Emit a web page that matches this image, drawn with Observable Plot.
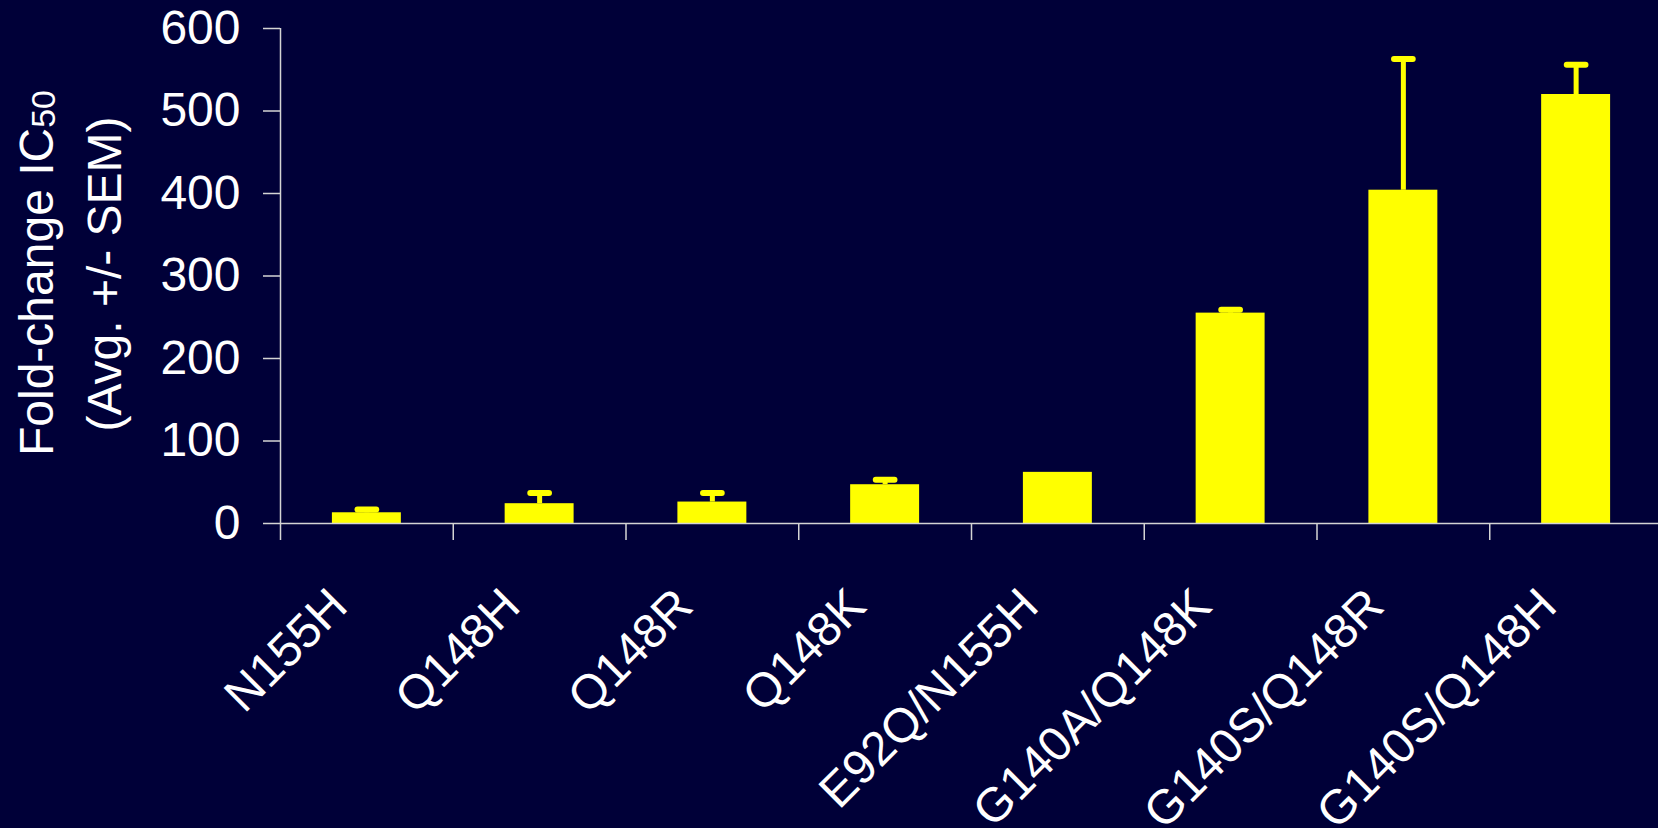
<!DOCTYPE html>
<html>
<head>
<meta charset="utf-8">
<script src="https://cdn.jsdelivr.net/npm/d3@7"></script>
<script src="https://cdn.jsdelivr.net/npm/@observablehq/plot@0.6"></script>
<style>
  html, body { margin: 0; padding: 0; background: #000038; overflow: hidden; }
  #chart svg { display: block; }
</style>
</head>
<body>
<div id="chart"></div>
<script>
// ---- data ----
const categories = ["N155H", "Q148H", "Q148R", "Q148K", "E92Q/N155H", "G140A/Q148K", "G140S/Q148R", "G140S/Q148H"];
const values = [13, 24, 26, 47, 62, 255, 404, 520];
const sem = [4, 13, 11, 6, null, 4, 159, 36];
const yTicks = [0, 100, 200, 300, 400, 500, 600];
const titleMain = "Fold-change IC";
const titleSub = "50";
const titleLine2 = "(Avg. +/- SEM)";

// ---- styling ----
const bg = "#000038";
const barColor = "#ffff00";
const axisColor = "#d4d4d4";
const font = "'Liberation Sans', Arial, Helvetica, sans-serif";

const rows = categories.map((name, i) => ({
  name,
  c: i + 0.5,
  v: values[i],
  hi: sem[i] == null ? null : values[i] + sem[i]
}));
const errRows = rows.filter(d => d.hi != null);
const xTicks = categories.map((_, i) => i);

const capSymbol = {
  draw(ctx, size) {
    const w = Math.sqrt(size);
    ctx.moveTo(-w / 2, 0);
    ctx.lineTo(w / 2, 0);
  }
};

const chart = Plot.plot({
  width: 1658,
  height: 828,
  marginLeft: 280,
  marginRight: -4,
  marginTop: 28,
  marginBottom: 305,
  x: {domain: [0, categories.length]},
  y: {domain: [0, 600]},
  style: {background: bg, color: "white", fontFamily: font, fontSize: "48px", overflow: "hidden"},
  marks: [
    Plot.rectY(rows, {x: "c", interval: 1, y: "v", fill: barColor, insetLeft: 51.9, insetRight: 51.9}),
    Plot.ruleX(errRows, {x: "c", y1: "v", y2: "hi", stroke: barColor, strokeWidth: 5}),
    Plot.dot(errRows, {x: "c", y: "hi", symbol: capSymbol, r: 10.55, fill: "none", stroke: barColor, strokeWidth: 6, strokeLinecap: "round"}),
    Plot.ruleY([0], {stroke: axisColor, strokeWidth: 1.5}),
    Plot.ruleX([0], {stroke: axisColor, strokeWidth: 1.5}),
    Plot.axisY(yTicks, {tickSize: 17, tickPadding: 23, fontSize: 48, stroke: axisColor, strokeWidth: 1.5, fill: "white", label: null}),
    Plot.axisX(xTicks, {tickSize: 17, tickFormat: () => "", stroke: axisColor, strokeWidth: 1.5, label: null}),
    Plot.text(categories, {
      x: (d, i) => i + 0.5, frameAnchor: "bottom", rotate: -45,
      textAnchor: "end", lineAnchor: "bottom", dx: -17, dy: 85,
      fontSize: 48, fill: "white"
    }),
    Plot.text([titleMain + titleSub], {
      frameAnchor: "left", rotate: -90, textAnchor: "middle", lineAnchor: "bottom",
      dx: -228, dy: -3, fontSize: 48, fill: "white"
    }),
    Plot.text([titleLine2], {
      frameAnchor: "left", rotate: -90, textAnchor: "middle", lineAnchor: "bottom",
      dx: -160, dy: -2, fontSize: 48, fill: "white"
    })
  ]
});

// subscript for IC50
d3.select(chart).selectAll("text")
  .filter(function () { return this.textContent === titleMain + titleSub; })
  .each(function () {
    const t = d3.select(this);
    t.text(null);
    t.append("tspan").text(titleMain);
    t.append("tspan").attr("font-size", 34).attr("dy", 2).text(titleSub);
  });

document.getElementById("chart").appendChild(chart);
</script>
</body>
</html>
